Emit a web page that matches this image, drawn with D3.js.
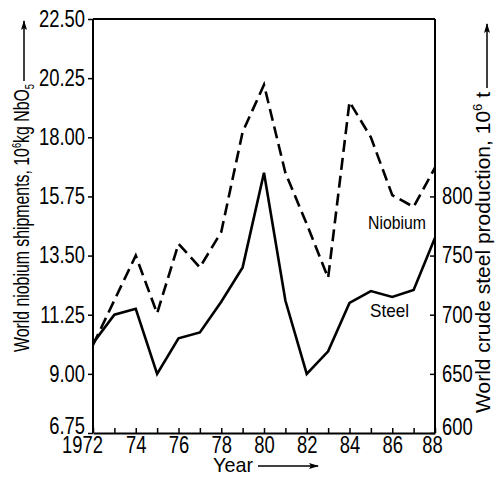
<!DOCTYPE html>
<html>
<head>
<meta charset="utf-8">
<script src="https://cdn.jsdelivr.net/npm/d3@7"></script>
<style>
html,body{margin:0;padding:0;background:#fff;}
svg{display:block;}
text{font-family:"Liberation Sans",Arial,sans-serif;fill:#000;}
</style>
</head>
<body>
<svg id="chart" width="495" height="481"></svg>
<script>
const years = [1972,1973,1974,1975,1976,1977,1978,1979,1980,1981,1982,1983,1984,1985,1986,1987,1988];
const niobium = [10.1,11.8,13.5,11.3,13.95,13.05,14.4,18.2,20.0,16.65,14.7,12.65,19.35,18.0,15.8,15.35,16.85];
const steel = [676,700,705,650,680,685,711,740,820,712,650,669,710,720,715,721,765];
const leftTicks = [6.75,9.00,11.25,13.50,15.75,18.00,20.25,22.50];
const rightTicks = [600,650,700,750,800];
const yearLabels = {1972:"1972",1974:"74",1976:"76",1978:"78",1980:"80",1982:"82",1984:"84",1986:"86",1988:"88"};

const svg = d3.select("#chart");
const L = 93, R = 435, T = 19, B = 433;

const x = d3.scaleLinear().domain([1972,1988]).range([L,R]);
const yL = d3.scaleLinear().domain([6.75,22.5]).range([B,T]);
const yR = d3.scaleLinear().domain([600,950]).range([B,T]);

function squeeze(sel, f) {
  sel.each(function(){
    const w = this.getComputedTextLength();
    if (w > 0) d3.select(this).attr("textLength", w*f).attr("lengthAdjust","spacingAndGlyphs");
  });
}
function fitTo(sel, len) {
  sel.attr("textLength", len).attr("lengthAdjust","spacingAndGlyphs");
}

// frame top
svg.append("line").attr("x1",L).attr("x2",R).attr("y1",T).attr("y2",T)
  .attr("stroke","#000").attr("stroke-width",2);

const axL = svg.append("g").attr("transform",`translate(${L},0)`)
  .call(d3.axisLeft(yL).tickValues(leftTicks).tickFormat(d3.format(".2f")).tickSizeInner(5).tickSizeOuter(0).tickPadding(3));
const axB = svg.append("g").attr("transform",`translate(0,${B})`)
  .call(d3.axisBottom(x).tickValues(years).tickFormat(d => yearLabels[d] || "").tickSizeInner(-5).tickSizeOuter(0).tickPadding(4));
const axR = svg.append("g").attr("transform",`translate(${R},0)`)
  .call(d3.axisRight(yR).tickValues(rightTicks).tickFormat(d3.format("d")).tickSizeInner(-5).tickSizeOuter(0).tickPadding(7));

[axL,axB,axR].forEach(a => {
  a.select(".domain").attr("stroke","#000").attr("stroke-width",2);
  a.selectAll(".tick line").attr("stroke","#000").attr("stroke-width",1.5);
  a.selectAll(".tick text").attr("font-size",23).attr("font-family","'Liberation Sans',Arial,sans-serif").attr("fill","#000");
  squeeze(a.selectAll(".tick text"), 0.8);
});
axR.select(".domain").attr("d",`M0,${T}V${B}`);
axL.select(".domain").attr("d",`M0,${T}V${B}`);
// lowest labels sit a little above their ticks
axL.selectAll(".tick text").filter(d => d === 6.75).attr("dy","0.03em");
axR.selectAll(".tick text").filter(d => d === 600).attr("dy","0.05em");
// first and last year labels shifted as in the original
axB.selectAll(".tick text").filter(d => d === 1972).attr("dx",-11);
axB.selectAll(".tick text").filter(d => d === 1988).attr("dx",-3);

const lineN = d3.line().x((d,i)=>x(years[i])).y(d=>yL(d));
const lineS = d3.line().x((d,i)=>x(years[i])).y(d=>yR(d));

svg.append("path").datum(niobium).attr("d",lineN).attr("fill","none")
  .attr("stroke","#000").attr("stroke-width",2.6).attr("stroke-dasharray","12,6").attr("stroke-linejoin","miter");
svg.append("path").datum(steel).attr("d",lineS).attr("fill","none")
  .attr("stroke","#000").attr("stroke-width",2.6).attr("stroke-linejoin","miter");

fitTo(svg.append("text").attr("x",368).attr("y",229).attr("font-size",19).text("Niobium"), 58);
fitTo(svg.append("text").attr("x",370).attr("y",317).attr("font-size",19).text("Steel"), 39);

// arrow marker
const defs = svg.append("defs");
defs.append("marker").attr("id","arr").attr("viewBox","0 0 10 6").attr("refX",9).attr("refY",3)
  .attr("markerWidth",10).attr("markerHeight",6).attr("markerUnits","userSpaceOnUse").attr("orient","auto")
  .append("path").attr("d","M0,0L10,3L0,6L2,3Z").attr("fill","#000");

// left title
const ltStart = 352, ltEnd = 84;
const lt = svg.append("text").attr("transform",`translate(29,${ltStart}) rotate(-90)`).attr("font-size",22);
lt.append("tspan").text("World niobium shipments, 10");
lt.append("tspan").attr("font-size",13).attr("dy",-8).text("6");
lt.append("tspan").attr("dy",8).text("kg NbO");
lt.append("tspan").attr("font-size",13).attr("dy",5).text("5");
fitTo(lt, ltStart - ltEnd);
svg.append("line").attr("x1",24).attr("x2",24).attr("y1",ltEnd-3).attr("y2",21)
  .attr("stroke","#000").attr("stroke-width",1.5).attr("marker-end","url(#arr)");

// right title
const rtStart = 413, rtEnd = 92;
const rt = svg.append("text").attr("transform",`translate(490,${rtStart}) rotate(-90)`).attr("font-size",21);
rt.append("tspan").text("World crude steel production, 10");
rt.append("tspan").attr("font-size",13).attr("dy",-8).text("6");
rt.append("tspan").attr("dy",8).text(" t");
fitTo(rt, rtStart - rtEnd);
svg.append("line").attr("x1",487).attr("x2",487).attr("y1",rtEnd-4).attr("y2",24)
  .attr("stroke","#000").attr("stroke-width",1.5).attr("marker-end","url(#arr)");

// x title
fitTo(svg.append("text").attr("x",213).attr("y",472).attr("font-size",21).text("Year"), 40);
svg.append("line").attr("x1",258).attr("x2",318).attr("y1",466).attr("y2",466)
  .attr("stroke","#000").attr("stroke-width",1.5).attr("marker-end","url(#arr)");
</script>
</body>
</html>
